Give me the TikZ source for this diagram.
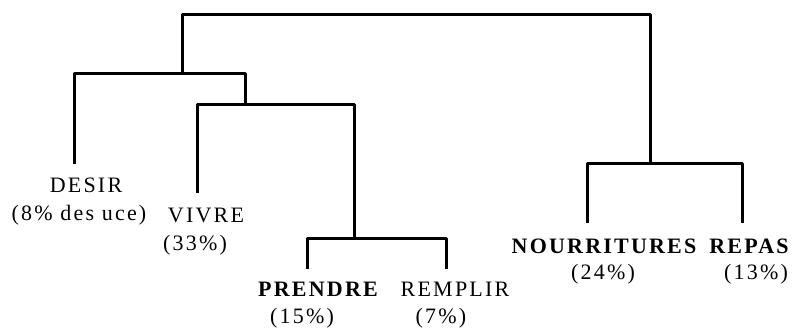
\documentclass[tikz,border=0pt]{standalone}
\usepackage{fontspec}
\setmainfont[LetterSpace=10]{Liberation Serif}

\begin{document}
\begin{tikzpicture}[x=1pt,y=-1pt,
    branch/.style={line width=3pt,line join=round},
    leaf/.style={font=\fontsize{22}{26}\selectfont,anchor=base,inner sep=0pt}]
      \useasboundingbox (0,0) rectangle (797,333);
      \coordinate (desir) at (74,164);
      \coordinate (vivre) at (197,193);
      \coordinate (prendre) at (307,269);
      \coordinate (remplir) at (446,269);
      \coordinate (nourr) at (587,223);
      \coordinate (repas) at (742,223);
      \coordinate (c1) at (354,238);
      \coordinate (c2) at (245,104);
      \coordinate (c3) at (182,73);
      \coordinate (c4) at (650,163);
      \coordinate (root) at (416,14);
      \draw[branch] (prendre) |- (c1) -| (remplir);
      \draw[branch] (vivre) |- (c2) -| (c1);
      \draw[branch] (desir) |- (c3) -| (c2);
      \draw[branch] (nourr) |- (c4) -| (repas);
      \draw[branch] (c3) |- (root) -| (c4);
      \node[leaf] (desirname) at (86,192) {DESIR};
      \node[leaf] (desirpct) at (79,220) {(8\% des uce)};
      \node[leaf] (vivrename) at (206,222) {VIVRE};
      \node[leaf] (vivrepct) at (195,250) {(33\%)};
      \node[leaf,font=\fontsize{22}{26}\selectfont\bfseries] (prendrename) at (318,296) {PRENDRE};
      \node[leaf] (prendrepct) at (302,323) {(15\%)};
      \node[leaf] (remplirname) at (455,296) {REMPLIR};
      \node[leaf] (remplirpct) at (441,323) {(7\%)};
      \node[leaf,font=\fontsize{22}{26}\selectfont\bfseries] (nourrname) at (604,253) {NOURRITURES};
      \node[leaf,font=\fontsize{22}{26}\selectfont\bfseries] (repasname) at (749,253) {REPAS};
      \node[leaf] (nourrpct) at (603,279) {(24\%)};
      \node[leaf] (repaspct) at (756,279) {(13\%)};
    \end{tikzpicture}
\end{document}
